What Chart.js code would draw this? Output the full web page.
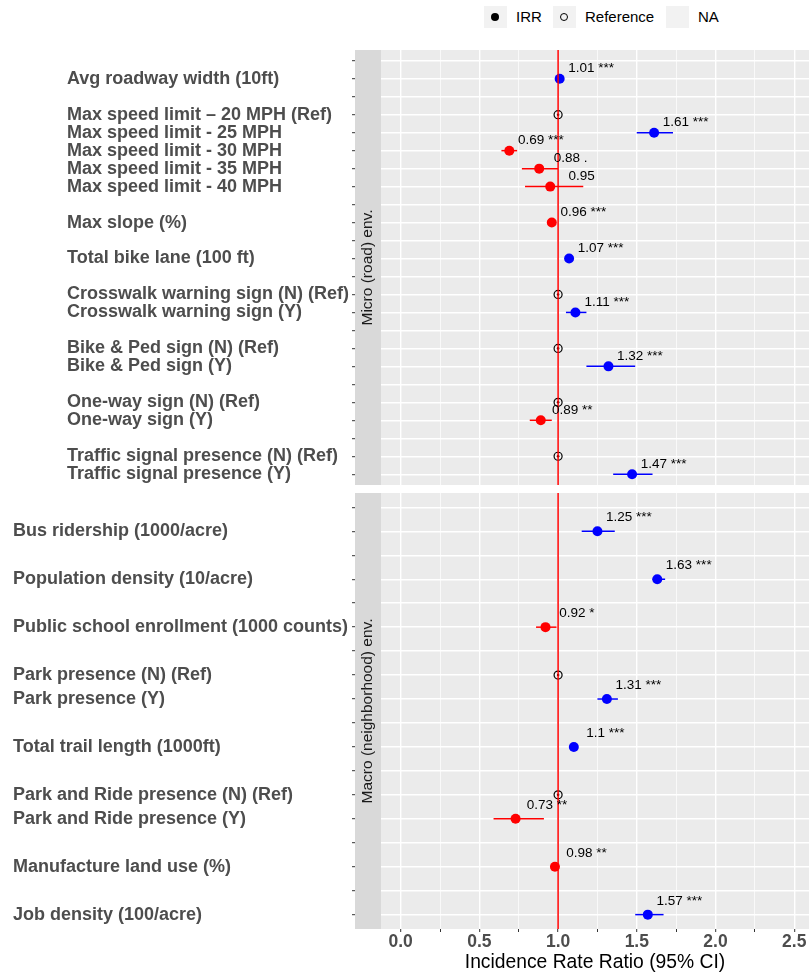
<!DOCTYPE html>
<html>
<head>
<meta charset="utf-8">
<script src="https://cdn.jsdelivr.net/npm/chart.js@4.4.1/dist/chart.umd.min.js"></script>
<style>
  html, body { margin: 0; padding: 0; background: #fff; }
  #wrap { position: relative; width: 809px; height: 976px; overflow: hidden;
          font-family: "Liberation Sans", Arial, sans-serif; }
  canvas { position: absolute; left: 0; }
  #micro { top: 0; }
  #macro { top: 488px; }
  .key { position: absolute; top: 6px; width: 23px; height: 22px; background: #f2f2f2; }
  .key i { position: absolute; left: 7px; top: 7px; width: 8px; height: 8px; border-radius: 50%; box-sizing: border-box; }
  .lab { position: absolute; top: 8px; font-size: 15px; line-height: 18px; color: #000; }
</style>
</head>
<body>
<div id="wrap">
  <div class="key" style="left:484px"><i style="background:#000"></i></div>
  <div class="lab" style="left:516px">IRR</div>
  <div class="key" style="left:553px"><i style="border:1.2px solid #000"></i></div>
  <div class="lab" style="left:585px">Reference</div>
  <div class="key" style="left:666px"></div>
  <div class="lab" style="left:698px">NA</div>
  <canvas id="micro" width="809" height="488"></canvas>
  <canvas id="macro" width="809" height="488"></canvas>
</div>
<script>
/* ---- data : micro (road) environment, top to bottom ---- */
const microLabels = [
  '', 'Avg roadway width (10ft)', '',
  'Max speed limit \u2013 20 MPH (Ref)', 'Max speed limit - 25 MPH', 'Max speed limit - 30 MPH',
  'Max speed limit - 35 MPH', 'Max speed limit - 40 MPH', '',
  'Max slope (%)', '', 'Total bike lane (100 ft)', '',
  'Crosswalk warning sign (N) (Ref)', 'Crosswalk warning sign (Y)', '',
  'Bike & Ped sign (N) (Ref)', 'Bike & Ped sign (Y)', '',
  'One-way sign (N) (Ref)', 'One-way sign (Y)', '',
  'Traffic signal presence (N) (Ref)', 'Traffic signal presence (Y)'
];
const microIrr   = [null, 1.01, null, 1, 1.61, 0.69, 0.88, 0.95, null, 0.96, null, 1.07, null, 1, 1.11, null, 1, 1.32, null, 1, 0.89, null, 1, 1.47];
const microLow   = [null, 1.00, null, null, 1.50, 0.64, 0.77, 0.79, null, 0.95, null, 1.06, null, null, 1.05, null, null, 1.18, null, null, 0.82, null, null, 1.35];
const microHigh  = [null, 1.02, null, null, 1.73, 0.74, 1.00, 1.16, null, 0.97, null, 1.08, null, null, 1.18, null, null, 1.49, null, null, 0.96, null, null, 1.60];
const microStars = ['', '***', '', '', '***', '***', '.', '', '', '***', '', '***', '', '', '***', '', '', '***', '', '', '**', '', '', '***'];
const microRef   = [false, false, false, true, false, false, false, false, false, false, false, false, false, true, false, false, true, false, false, true, false, false, true, false];

/* ---- data : macro (neighborhood) environment ---- */
const macroLabels = [
  '', 'Bus ridership (1000/acre)', '', 'Population density (10/acre)', '',
  'Public school enrollment (1000 counts)', '',
  'Park presence (N) (Ref)', 'Park presence (Y)', '',
  'Total trail length (1000ft)', '',
  'Park and Ride presence (N) (Ref)', 'Park and Ride presence (Y)', '',
  'Manufacture land use (%)', '', 'Job density (100/acre)'
];
const macroIrr   = [null, 1.25, null, 1.63, null, 0.92, null, 1, 1.31, null, 1.1, null, 1, 0.73, null, 0.98, null, 1.57];
const macroLow   = [null, 1.15, null, 1.60, null, 0.86, null, null, 1.25, null, 1.09, null, null, 0.59, null, 0.97, null, 1.49];
const macroHigh  = [null, 1.36, null, 1.68, null, 0.99, null, null, 1.38, null, 1.11, null, null, 0.91, null, 0.99, null, 1.67];
const macroStars = ['', '***', '', '***', '', '*', '', '', '***', '', '***', '', '', '**', '', '**', '', '***'];
const macroRef   = [false, false, false, false, false, false, false, true, false, false, false, false, true, false, false, false, false, false];

/* ---- x axis ---- */
const xMajorTicks = [0, 0.5, 1, 1.5, 2, 2.5];
const xMinorTicks = [0.25, 0.75, 1.25, 1.75, 2.25];
const xTitle = 'Incidence Rate Ratio (95% CI)';
const refLine = 1;

const FONT = '"Liberation Sans", Arial, sans-serif';
const BLUE = '#0000ff', RED = '#ff0000';

/* ──── plugins ──────────────────────────────────────── */

const panelBg = {
  id: 'panelBg',
  beforeDraw(chart) {
    const a = chart.chartArea, ctx = chart.ctx;
    ctx.save();
    ctx.fillStyle = '#ebebeb';
    ctx.fillRect(a.left, a.top, a.right - a.left, a.bottom - a.top);
    ctx.restore();
  }
};

const forest = {
  id: 'forest',
  beforeDatasetsDraw(chart, args, o) {
    const ctx = chart.ctx, xs = chart.scales.x, ys = chart.scales.y;
    ctx.save();
    ctx.lineWidth = 1.5;
    o.irr.forEach((v, i) => {
      if (o.low[i] == null) return;
      const y = ys.getPixelForValue(i);
      ctx.strokeStyle = v > 1 ? BLUE : RED;
      ctx.beginPath();
      ctx.moveTo(xs.getPixelForValue(o.low[i]), y);
      ctx.lineTo(xs.getPixelForValue(o.high[i]), y);
      ctx.stroke();
    });
    ctx.restore();
  },
  afterDatasetsDraw(chart, args, o) {
    const ctx = chart.ctx, xs = chart.scales.x, ys = chart.scales.y, a = chart.chartArea;
    ctx.save();
    // reference line
    ctx.strokeStyle = RED;
    ctx.lineWidth = 1.5;
    const xr = xs.getPixelForValue(refLine);
    ctx.beginPath();
    ctx.moveTo(xr, a.top);
    ctx.lineTo(xr, a.bottom);
    ctx.stroke();
    // value labels
    ctx.fillStyle = '#000';
    ctx.font = '13.5px ' + FONT;
    ctx.textAlign = 'center';
    ctx.textBaseline = 'middle';
    o.irr.forEach((v, i) => {
      if (v == null || o.ref[i]) return;
      const txt = String(v) + (o.stars[i] ? ' ' + o.stars[i] : '');
      ctx.fillText(txt, xs.getPixelForValue(v + 0.2), ys.getPixelForValue(i - 0.57));
    });
    ctx.restore();
  },
  afterDraw(chart, args, o) {
    const ctx = chart.ctx, a = chart.chartArea;
    ctx.save();
    ctx.fillStyle = '#d9d9d9';
    ctx.fillRect(a.left - 26, a.top, 26, a.bottom - a.top);
    ctx.translate(a.left - 13, (a.top + a.bottom) / 2);
    ctx.rotate(-Math.PI / 2);
    ctx.fillStyle = '#1a1a1a';
    ctx.font = '15.5px ' + FONT;
    ctx.textAlign = 'center';
    ctx.textBaseline = 'middle';
    ctx.fillText(o.strip, 0, 0);
    ctx.restore();
  }
};

/* ──── panel builder ─────────────────────────────────── */

function buildPanel(id, p) {
  const irrPts = [], refPts = [];
  p.irr.forEach((v, i) => {
    if (v == null) return;
    (p.ref[i] ? refPts : irrPts).push({ x: v, y: i });
  });
  const n = p.labels.length;

  return new Chart(document.getElementById(id), {
    type: 'scatter',
    data: {
      datasets: [
        { data: irrPts, pointRadius: 5, pointHoverRadius: 5, borderWidth: 0,
          pointBackgroundColor: c => (c.raw && c.raw.x > 1 ? BLUE : RED) },
        { data: refPts, pointRadius: 4, pointHoverRadius: 4, borderWidth: 1.2,
          pointBorderColor: '#000', pointBackgroundColor: 'rgba(0,0,0,0)' },
        { data: refPts, pointRadius: 1.3, pointHoverRadius: 1.3, borderWidth: 0,
          pointBackgroundColor: '#000' },
      ],
    },
    options: {
      responsive: false,
      animation: false,
      events: [],
      layout: { padding: p.padding, autoPadding: false },
      plugins: {
        legend: { display: false },
        tooltip: { enabled: false },
        forest: { irr: p.irr, low: p.low, high: p.high, stars: p.stars, ref: p.ref, strip: p.strip },
      },
      scales: {
        x: {
          type: 'linear', min: -0.125, max: 2.594,
          afterBuildTicks: s => { s.ticks = xMajorTicks.concat(xMinorTicks).sort((a, b) => a - b).map(v => ({ value: v })); },
          afterFit: s => { s.height = p.xHeight; s.paddingLeft = 0; s.paddingRight = 0; },
          border: { display: false },
          grid: {
            color: '#ffffff',
            lineWidth: c => (xMajorTicks.includes(c.tick.value) ? 1.4 : 0.7),
            drawTicks: p.showX, tickLength: 3, tickColor: '#333333', tickWidth: 1,
          },
          ticks: {
            display: p.showX, autoSkip: false, maxRotation: 0, padding: 1,
            color: '#4d4d4d', font: { family: FONT, size: 17.5, weight: 'bold', lineHeight: 1 },
            callback: v => (xMajorTicks.includes(v) ? v.toFixed(1) : ''),
          },
          title: {
            display: p.showX, text: xTitle, color: '#000',
            font: { family: FONT, size: 19.3, lineHeight: 1 }, padding: { top: 0, bottom: 4 },
          },
        },
        y: {
          type: 'linear', reverse: true, min: -0.6, max: n - 1 + 0.6,
          afterBuildTicks: s => { s.ticks = p.labels.map((_, i) => ({ value: i })); },
          afterFit: s => { s.width = p.yWidth; s.paddingTop = 0; s.paddingBottom = 0; },
          border: { display: false },
          grid: { color: '#ffffff', lineWidth: 1.4, tickLength: 29, tickColor: '#333333', tickWidth: 1 },
          ticks: {
            autoSkip: false, crossAlign: 'far', padding: 0,
            color: '#4d4d4d', font: { family: FONT, size: 18, weight: 'bold', lineHeight: 1 },
            callback: v => p.labels[v],
          },
        },
      },
    },
    plugins: [panelBg, forest],
  });
}

buildPanel('micro', {
  labels: microLabels, irr: microIrr, low: microLow, high: microHigh, stars: microStars, ref: microRef,
  strip: 'Micro (road) env.', padding: { top: 50, left: 67, right: 0, bottom: 3 },
  yWidth: 314, xHeight: 0, showX: false,
});

buildPanel('macro', {
  labels: macroLabels, irr: macroIrr, low: macroLow, high: macroHigh, stars: macroStars, ref: macroRef,
  strip: 'Macro (neighborhood) env.', padding: { top: 5, left: 13, right: 0, bottom: 0 },
  yWidth: 368, xHeight: 47, showX: true,
});
</script>
</body>
</html>
